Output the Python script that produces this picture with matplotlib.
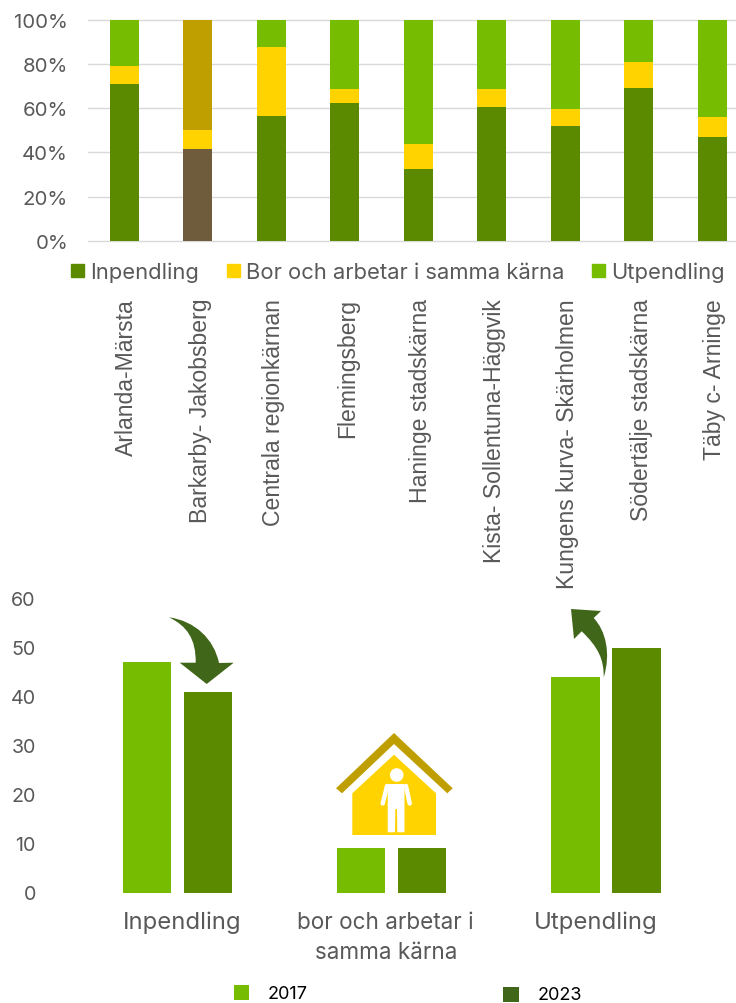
import matplotlib
matplotlib.use("Agg")
import numpy as np
import matplotlib.pyplot as plt
from matplotlib.patches import Patch, PathPatch, Polygon, Circle, Rectangle
from matplotlib.path import Path
from matplotlib.transforms import ScaledTranslation

W, H = 736, 1004

# stacked shares per core area (percent)
areas = ["Arlanda-Märsta", "Barkarby- Jakobsberg", "Centrala regionkärnan", "Flemingsberg",
         "Haninge stadskärna", "Kista- Sollentuna-Häggvik", "Kungens kurva- Skärholmen",
         "Södertälje stadskärna", "Täby c- Arninge"]
inpendling = [71, 41.5, 56.5, 62.5, 32.5, 60.5, 52, 69, 47]
bor_arbetar = [8, 8.5, 31, 6, 11.5, 8, 7.5, 12, 9]
utpendling = [21, 50, 12.5, 31.5, 56, 31.5, 40.5, 19, 44]

# change between years
groups = ["Inpendling", "bor och arbetar i\nsamma kärna", "Utpendling"]
values_2017 = [47, 9, 44]
values_2023 = [41, 9, 50]

LIGHT = "#76BC00"
DARK = "#5B8A00"
YELLOW = "#FFD300"
OCHRE = "#BF9F00"
BROWN = "#6E5C3D"
ARROW = "#40661A"
GREY = "#595959"
UI_FONT = ["Inter", "DejaVu Sans"]
LABEL_FONT = ["Liberation Sans", "DejaVu Sans"]


def axes_px(fig, left, top, right, bottom):
    return fig.add_axes([left / W, 1 - bottom / H, (right - left) / W, (bottom - top) / H])


def shift_px(fig, label, dx=0, dy=0):
    label.set_transform(label.get_transform() + ScaledTranslation(dx / 100, dy / 100, fig.dpi_scale_trans))


fig = plt.figure(figsize=(W / 100, H / 100), dpi=100)

# top chart
ax = axes_px(fig, 87.5, 20.5, 736, 242)
x = np.arange(len(areas))
in_colors = [BROWN if i == 1 else DARK for i in x]
ut_colors = [OCHRE if i == 1 else LIGHT for i in x]
bottom2 = np.array(inpendling)
bottom3 = bottom2 + np.array(bor_arbetar)
ax.bar(x, inpendling, 0.4, color=in_colors, zorder=3)
ax.bar(x, bor_arbetar, 0.4, bottom=bottom2, color=YELLOW, zorder=3)
ax.bar(x, utpendling, 0.4, bottom=bottom3, color=ut_colors, zorder=3)
ax.set_xlim(-0.5, -0.5 + 648.5 / 73.5)
ax.set_ylim(0, 100)
ax.set_yticks(range(0, 101, 20))
ax.set_yticklabels([f"{v}%" for v in range(0, 101, 20)], fontsize=14.7, color=GREY, family=UI_FONT)
ax.set_xticks(x)
ax.set_xticklabels(areas, rotation=90, ha="center", va="top", fontsize=16.6, color=GREY, family=LABEL_FONT)
ax.tick_params(axis="y", length=0, pad=14)
ax.tick_params(axis="x", length=0, pad=41)
for lab in ax.get_xticklabels():
    shift_px(fig, lab, dx=2.5)
ax.grid(axis="y", color="#D9D9D9", lw=1, zorder=0)
for gl in ax.get_ygridlines():
    gl.set_clip_on(False)
for s in ax.spines.values():
    s.set_visible(False)
handles = [Patch(color=DARK, label="Inpendling"), Patch(color=YELLOW, label="Bor och arbetar i samma kärna"),
           Patch(color=LIGHT, label="Utpendling")]
fig.legend(handles=handles, loc="center left", bbox_to_anchor=(71 / W, 1 - 273 / H), ncol=3, frameon=False,
           handlelength=0.6, handleheight=0.6, handletextpad=0.27, columnspacing=1.27,
           prop={"family": UI_FONT, "size": 15.8}, labelcolor=GREY, borderpad=0, borderaxespad=0)

# bottom chart
ax2 = axes_px(fig, 70.5, 599.5, 713, 893.5)
x2 = np.arange(len(groups))
ax2.bar(x2 - 0.1425, values_2017, 0.2255, color=LIGHT)
ax2.bar(x2 + 0.1425, values_2023, 0.2255, color=DARK)
ax2.set_xlim(-0.5, 2.5)
ax2.set_ylim(0, 60)
ax2.set_yticks(range(0, 61, 10))
ax2.set_yticklabels(range(0, 61, 10), fontsize=14.2, color=GREY, family=UI_FONT)
ax2.set_xticks(x2)
ax2.set_xticklabels(groups, fontsize=16.5, color=GREY, family=UI_FONT, linespacing=1.5)
ax2.tick_params(axis="y", length=0, pad=25)
ax2.tick_params(axis="x", length=0, pad=13)
for lab, dx, size in zip(ax2.get_xticklabels(), [5, -6, -10], [17.2, 16.2, 17.2]):
    lab.set_fontsize(size)
    shift_px(fig, lab, dx=dx)
for s in ax2.spines.values():
    s.set_visible(False)

# overlay in image pixels for the arrows, house and year legend
ov = fig.add_axes([0, 0, 1, 1], zorder=5)
ov.set_xlim(0, W)
ov.set_ylim(H, 0)
ov.axis("off")

down_arrow = [(169, 618.3), (195, 622), (214, 640), (219, 664), (233.7, 663.7), (206.7, 685), (179.7, 663.7),
              (195.7, 663.7), (196, 640), (187, 627), (169, 618.3)]
down_codes = [Path.MOVETO, Path.CURVE4, Path.CURVE4, Path.CURVE4, Path.LINETO, Path.LINETO, Path.LINETO,
              Path.LINETO, Path.CURVE4, Path.CURVE4, Path.CURVE4]
ov.add_patch(PathPatch(Path(down_arrow, down_codes), fc=ARROW, ec="none"))

up_arrow = [(571, 610), (601, 612), (593.7, 619), (606, 632), (611, 655), (603.7, 678.3), (604, 660), (598, 648),
            (581.7, 632.3), (574, 640), (571, 610)]
up_codes = [Path.MOVETO, Path.LINETO, Path.LINETO, Path.CURVE4, Path.CURVE4, Path.CURVE4, Path.CURVE4, Path.CURVE4,
            Path.CURVE4, Path.LINETO, Path.LINETO]
ov.add_patch(PathPatch(Path(up_arrow, up_codes), fc=ARROW, ec="none"))

# house with person
ov.add_patch(Polygon([(394, 734), (452.7, 789.3), (447.3, 794.3), (394, 745), (342, 794.3), (336, 789.3)], fc=OCHRE, ec="none"))
ov.add_patch(Polygon([(394, 755.7), (436, 794.3), (436, 836), (352.3, 836), (352.3, 794.3)], fc=YELLOW, ec="none"))
ov.add_patch(Circle((396.7, 776), 6.8, fc="white", ec="none"))
ov.add_patch(Polygon([(387.7, 785), (404.5, 785), (404.5, 833.3), (397.3, 833.3), (397, 810), (395.3, 810), (395, 833.3),
                     (387.7, 833.3)], fc="white", ec="none"))
ov.plot([387, 382.7], [787, 804.5], color="white", lw=3.2, solid_capstyle="round")
ov.plot([406, 409.7], [787, 804.5], color="white", lw=3.2, solid_capstyle="round")

ov.add_patch(Rectangle((234, 986), 15, 15, fc=LIGHT, ec="none"))
ov.add_patch(Rectangle((503, 988), 16, 15, fc=ARROW, ec="none"))
ov.text(268, 994.5, "2017", fontsize=13, color="black", family=UI_FONT, va="center")
ov.text(538, 995.5, "2023", fontsize=13, color="black", family=UI_FONT, va="center")

fig.savefig("out.png", dpi=100)
